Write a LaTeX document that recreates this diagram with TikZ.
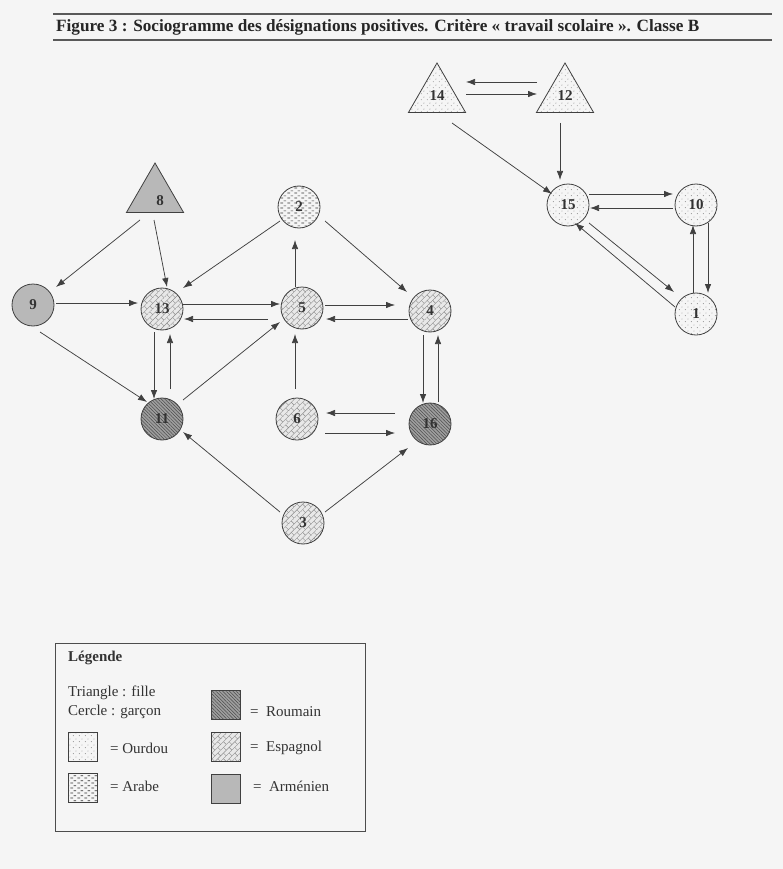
\documentclass[tikz,border=0pt]{standalone}
\usepackage{fontspec}
\setmainfont{Liberation Serif}
\usetikzlibrary{arrows.meta,calc,shapes.geometric,patterns,patterns.meta}

\pgfdeclarepattern{name=ourdou, type=uncolored,
  bottom left={\pgfpoint{0pt}{0pt}}, top right={\pgfpoint{6pt}{6pt}},
  tile size={\pgfpoint{6pt}{6pt}},
  code={\pgfpathcircle{\pgfpoint{1.5pt}{1.5pt}}{.5pt}
        \pgfpathcircle{\pgfpoint{4.5pt}{4.5pt}}{.5pt}\pgfusepath{fill}}}
\pgfdeclarepattern{name=arabe, type=uncolored,
  bottom left={\pgfpoint{0pt}{0pt}}, top right={\pgfpoint{7pt}{5pt}},
  tile size={\pgfpoint{7pt}{5pt}},
  code={\pgfsetlinewidth{.8pt}
        \pgfpathmoveto{\pgfpoint{.5pt}{1.2pt}}\pgfpathlineto{\pgfpoint{3.5pt}{1.2pt}}
        \pgfpathmoveto{\pgfpoint{4pt}{3.7pt}}\pgfpathlineto{\pgfpoint{6.8pt}{3.7pt}}
        \pgfusepath{stroke}}}
\pgfdeclarepattern{name=espagnol, type=uncolored,
  bottom left={\pgfpoint{-.2pt}{-.2pt}}, top right={\pgfpoint{8.2pt}{8.2pt}},
  tile size={\pgfpoint{8pt}{8pt}},
  tile transformation={\pgftransformrotate{45}},
  code={\pgfsetlinewidth{.4pt}
        \pgfpathmoveto{\pgfpoint{0pt}{0pt}}\pgfpathlineto{\pgfpoint{8pt}{0pt}}
        \pgfpathmoveto{\pgfpoint{0pt}{4pt}}\pgfpathlineto{\pgfpoint{8pt}{4pt}}
        \pgfpathmoveto{\pgfpoint{0pt}{0pt}}\pgfpathlineto{\pgfpoint{0pt}{4pt}}
        \pgfpathmoveto{\pgfpoint{4pt}{4pt}}\pgfpathlineto{\pgfpoint{4pt}{8pt}}
        \pgfusepath{stroke}}}

\tikzset{
  garcon/.style={circle,draw=black!75,line width=.8pt,minimum size=42pt,inner sep=0pt,
    font=\fontsize{15}{17}\selectfont\bfseries,text=black!80},
  fille/.style={regular polygon,regular polygon sides=3,draw=black!75,line width=.8pt,
    minimum size=66pt,inner sep=0pt,font=\fontsize{15}{17}\selectfont\bfseries,text=black!80},
  ourdou/.style={preaction={fill=black!4},pattern=ourdou,pattern color=black!60},
  arabe/.style={preaction={fill=black!4},pattern=arabe,pattern color=black!80},
  espagnol/.style={preaction={fill=black!9},pattern=espagnol,pattern color=black!45},
  roumain/.style={preaction={fill=black!38},pattern={Lines[angle=-45,distance=2.4pt,line width=.5pt]},pattern color=black!70},
  armenien/.style={fill=black!28},
  fleche/.style={draw=black!75,line width=.75pt,-{Latex[length=9pt,width=6.5pt]}},
  legende/.style={anchor=west,inner sep=0pt,font=\fontsize{15}{17}\selectfont,text=black!80},
  carre/.style={rectangle,draw=black!75,line width=.8pt,minimum size=29pt,inner sep=0pt}
}

\begin{document}
\begin{tikzpicture}[x=1pt,y=-1pt]
  \fill[black!4] (0,0) rectangle (783,869);
  \useasboundingbox (0,0) rectangle (783,869);

  % titre
  \draw[black!65,line width=1.2pt] (53,14) -- (772,14);
  \draw[black!65,line width=1.2pt] (53,40) -- (772,40);
  \node[anchor=west,inner sep=0pt,font=\fontsize{17.2}{19}\selectfont\bfseries,text=black!85] (titre) at (56,27)
    {Figure 3 : Sociogramme des désignations positives. Critère « travail scolaire ». Classe B};

  % groupe de droite
  \node[fille,ourdou] (n14) at (437,96) {14};
  \node[fille,ourdou] (n12) at (565,96) {12};
  \node[garcon,ourdou] (n15) at (568,205) {15};
  \node[garcon,ourdou] (n10) at (696,205) {10};
  \node[garcon,ourdou] (n1) at (696,314) {1};

  \draw[fleche] ($(n12)+(-28,-14)$) -- ($(n14)+(29,-14)$);
  \draw[fleche] ($(n14)+(29,-2)$) -- ($(n12)+(-28,-2)$);
  \draw[fleche] ($(n14)+(15,27)$) -- ($(n15)+(-16,-11)$);
  \draw[fleche] ($(n12)+(-5,27)$) -- ($(n15)+(-8,-25)$);
  \draw[fleche] ($(n15)+(21,-11)$) -- ($(n10)+(-23,-11)$);
  \draw[fleche] ($(n10)+(-23,3)$) -- ($(n15)+(22,3)$);
  \draw[fleche] ($(n1)+(-21,-7)$) -- ($(n15)+(7,18)$);
  \draw[fleche] ($(n15)+(21,18)$) -- ($(n1)+(-22,-22)$);
  \draw[fleche] ($(n1)+(-3,-21)$) -- ($(n10)+(-3,20)$);
  \draw[fleche] ($(n10)+(12,18)$) -- ($(n1)+(12,-21)$);

  % groupe de gauche
  \node[fille,armenien,label={[font=\fontsize{15}{17}\selectfont\bfseries,text=black!80,xshift=5pt,yshift=-5pt]center:8}] (n8) at (155,196) {};
  \node[garcon,arabe] (n2) at (299,207) {2};
  \node[garcon,armenien] (n9) at (33,305) {9};
  \node[garcon,espagnol] (n13) at (162,309) {13};
  \node[garcon,espagnol] (n5) at (302,308) {5};
  \node[garcon,espagnol] (n4) at (430,311) {4};
  \node[garcon,roumain] (n11) at (162,419) {11};
  \node[garcon,espagnol] (n6) at (297,419) {6};
  \node[garcon,roumain] (n16) at (430,424) {16};
  \node[garcon,espagnol] (n3) at (303,523) {3};

  \draw[fleche] ($(n8)+(-15,24)$) -- ($(n9)+(23,-18)$);
  \draw[fleche] ($(n8)+(-1,24)$) -- ($(n13)+(5,-22)$);
  \draw[fleche] ($(n2)+(-19,14)$) -- ($(n13)+(21,-21)$);
  \draw[fleche] ($(n2)+(26,14)$) -- ($(n4)+(-23,-19)$);
  \draw[fleche] ($(n5)+(-7,-21)$) -- ($(n2)+(-4,33)$);
  \draw[fleche] ($(n9)+(23,-2)$) -- ($(n13)+(-24,-6)$);
  \draw[fleche] ($(n13)+(21,-5)$) -- ($(n5)+(-22,-4)$);
  \draw[fleche] ($(n5)+(-34,11)$) -- ($(n13)+(22,10)$);
  \draw[fleche] ($(n5)+(23,-3)$) -- ($(n4)+(-35,-6)$);
  \draw[fleche] ($(n4)+(-22,8)$) -- ($(n5)+(24,11)$);
  \draw[fleche] ($(n13)+(-8,23)$) -- ($(n11)+(-8,-20)$);
  \draw[fleche] ($(n11)+(8,-30)$) -- ($(n13)+(8,25)$);
  \draw[fleche] ($(n9)+(7,27)$) -- ($(n11)+(-15,-17)$);
  \draw[fleche] ($(n11)+(21,-19)$) -- ($(n5)+(-22,14)$);
  \draw[fleche] ($(n6)+(-2,-30)$) -- ($(n5)+(-7,26)$);
  \draw[fleche] ($(n4)+(-7,24)$) -- ($(n16)+(-7,-21)$);
  \draw[fleche] ($(n16)+(8,-22)$) -- ($(n4)+(8,24)$);
  \draw[fleche] ($(n16)+(-35,-11)$) -- ($(n6)+(29,-6)$);
  \draw[fleche] ($(n6)+(28,14)$) -- ($(n16)+(-35,9)$);
  \draw[fleche] ($(n3)+(-23,-11)$) -- ($(n11)+(21,13)$);
  \draw[fleche] ($(n3)+(22,-11)$) -- ($(n16)+(-22,24)$);

  % legende
  \draw[black!70,line width=1pt] (55,643) rectangle (365,831);
  \node[legende,font=\fontsize{15}{17}\selectfont\bfseries] (leg) at (68,658) {Légende};
  \node[legende] (tri) at (68,693) {Triangle : fille};
  \node[legende] (cer) at (68,712) {Cercle : garçon};
  \node[carre,ourdou] (c1) at (83,746.5) {};
  \node[legende] (t1) at (110,748) {= Ourdou};
  \node[carre,arabe] (c2) at (83,788) {};
  \node[legende] (t2) at (110,786) {= Arabe};
  \node[carre,roumain] (c3) at (225.5,704.5) {};
  \node[legende] (t3) at (250,712) {=\enspace Roumain};
  \node[carre,espagnol] (c4) at (225.5,746.5) {};
  \node[legende] (t4) at (250,748) {=\enspace Espagnol};
  \node[carre,armenien] (c5) at (225.5,789) {};
  \node[legende] (t5) at (253,786) {=\enspace Arménien};
\end{tikzpicture}
\end{document}
